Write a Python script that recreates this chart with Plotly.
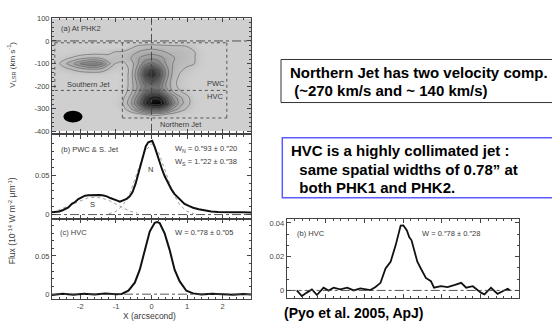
import plotly.graph_objects as go

W, H = 552, 327

# ---------------- data ----------------
# panel (a): position-velocity map (contour level units)
map_x = [-2.8, -2.6, -2.4, -2.2, -2.0, -1.8, -1.6, -1.4, -1.2, -1.0, -0.8, -0.6, -0.4, -0.2,
         0.0, 0.2, 0.4, 0.6, 0.8, 1.0, 1.2, 1.4, 1.6, 1.8, 2.0, 2.2, 2.4, 2.6, 2.8]
map_v = [100, 75, 50, 25, 0, -25, -50, -75, -100, -125, -150, -175, -200, -225, -250,
         -275, -300, -325, -350, -375, -400]
Z0 = [0] * 29
map_level = [
    Z0, Z0, Z0, Z0, Z0,
    [0, 0, 0, 0, 0, 0, 0, 0, 0, 0, 0, 0.6, 1.2, 1.4, 1.5, 1.4, 1.3, 1.2, 1.2, 1.0, 0.6, 0, 0, 0, 0, 0, 0, 0, 0],
    [0, 0, 0.1, 0.2, 0.3, 0.4, 0.5, 0.6, 0.8, 1.1, 1.2, 1.6, 2.0, 2.4, 2.6, 2.4, 2.0, 1.8, 1.6, 1.4, 1.1, 0.3, 0, 0, 0, 0, 0, 0, 0],
    [0, 0.35, 0.75, 1.15, 1.6, 1.9, 2.0, 1.7, 1.3, 1.5, 1.4, 1.9, 2.8, 3.4, 3.7, 3.4, 2.8, 2.1, 1.7, 1.4, 1.1, 0.3, 0, 0, 0, 0, 0, 0, 0],
    [0, 0.9, 1.9, 2.9, 4.0, 4.8, 5.0, 4.3, 2.2, 0.95, 0.8, 1.3, 2.8, 4.5, 5.3, 4.5, 3.0, 2.0, 1.5, 1.25, 1.05, 0.2, 0, 0, 0, 0, 0, 0, 0],
    [0, 0.35, 0.75, 1.15, 1.6, 1.9, 2.0, 1.7, 0.9, 0.4, 0.4, 1.2, 3.4, 6.2, 7.4, 6.2, 3.6, 1.9, 1.2, 0.8, 0.3, 0, 0, 0, 0, 0, 0, 0, 0],
    [0, 0, 0.1, 0.2, 0.2, 0.2, 0.2, 0.2, 0.1, 0, 0.3, 1.3, 3.8, 6.8, 8.0, 6.8, 3.8, 1.7, 0.9, 0.4, 0, 0, 0, 0, 0, 0, 0, 0, 0],
    [0, 0, 0, 0, 0, 0, 0, 0, 0, 0, 0.3, 1.3, 3.4, 5.8, 6.8, 5.8, 3.3, 1.4, 0.7, 0.2, 0, 0, 0, 0, 0, 0, 0, 0, 0],
    [0, 0, 0, 0, 0, 0, 0, 0, 0, 0, 0.3, 1.3, 3.0, 4.8, 5.4, 4.9, 3.0, 1.4, 0.7, 0.2, 0, 0, 0, 0, 0, 0, 0, 0, 0],
    [0, 0, 0, 0, 0, 0, 0, 0, 0, 0, 0.4, 1.5, 3.4, 5.4, 6.3, 6.0, 4.0, 2.0, 1.1, 0.6, 0, 0, 0, 0, 0, 0, 0, 0, 0],
    [0, 0, 0, 0, 0, 0, 0, 0, 0, 0.2, 0.8, 2.2, 4.4, 7.0, 8.6, 8.6, 6.6, 3.8, 2.2, 1.3, 0.3, 0, 0, 0, 0, 0, 0, 0, 0],
    [0, 0, 0, 0, 0, 0, 0, 0, 0, 0.3, 1.05, 2.6, 5.0, 7.8, 9.7, 9.9, 7.8, 4.6, 2.5, 1.4, 0.4, 0, 0, 0, 0, 0, 0, 0, 0],
    [0, 0, 0, 0, 0, 0, 0, 0, 0, 0, 0.6, 1.8, 3.6, 5.6, 6.8, 6.8, 5.2, 3.0, 1.7, 0.9, 0.2, 0, 0, 0, 0, 0, 0, 0, 0],
    [0, 0, 0, 0, 0, 0, 0, 0, 0, 0, 0, 0.3, 0.6, 1.0, 1.2, 1.2, 1.0, 0.6, 0.3, 0.1, 0, 0, 0, 0, 0, 0, 0, 0, 0],
    Z0, Z0, Z0,
]

# panel (b): PWC & S. jet spatial profile
b_x = [-2.8, -2.7, -2.6, -2.5, -2.43, -2.34, -2.24, -2.15, -2.06, -1.96, -1.87, -1.78, -1.68, -1.56,
       -1.45, -1.35, -1.26, -1.16, -1.07, -0.98, -0.89, -0.80, -0.70, -0.62, -0.54, -0.45, -0.37,
       -0.30, -0.23, -0.16, -0.09, -0.03, 0.02, 0.09, 0.16, 0.23, 0.30, 0.37, 0.46, 0.56, 0.65,
       0.75, 0.84, 0.93, 1.05, 1.17, 1.33, 1.49, 1.68, 1.87, 2.1, 2.33, 2.55, 2.8]
b_y = [0.003, 0.0035, 0.004, 0.0055, 0.0074, 0.009, 0.0136, 0.016, 0.0198, 0.022, 0.024, 0.0245,
       0.0248, 0.025, 0.0248, 0.0242, 0.0232, 0.021, 0.019, 0.018, 0.0165, 0.018, 0.0198, 0.023,
       0.028, 0.039, 0.053, 0.066, 0.078, 0.087, 0.092, 0.0935, 0.0938, 0.086, 0.076, 0.065, 0.057,
       0.049, 0.040, 0.032, 0.026, 0.022, 0.018, 0.0136, 0.011, 0.0087, 0.0068, 0.0053, 0.004,
       0.0033, 0.0036, 0.003, 0.0028, 0.0025]
nfit_x = [-1.2, -1.0, -0.8, -0.6, -0.4, -0.2, 0.0, 0.2, 0.4, 0.6, 0.8, 1.0, 1.2]
nfit_y = [0.001, 0.004, 0.012, 0.028, 0.054, 0.079, 0.090, 0.079, 0.054, 0.028, 0.012, 0.004, 0.001]
sfit_x = [-2.8, -2.6, -2.4, -2.2, -2.0, -1.8, -1.6, -1.4, -1.2, -1.0, -0.8, -0.6, -0.4]
sfit_y = [0.003, 0.006, 0.010, 0.014, 0.018, 0.021, 0.022, 0.021, 0.018, 0.013, 0.008, 0.004, 0.002]

# panel (c): HVC spatial profile
c_x = [-2.8, -2.5, -2.2, -1.9, -1.6, -1.3, -1.0, -0.84, -0.65, -0.47, -0.33, -0.19, -0.05,
       0.09, 0.16, 0.23, 0.37, 0.51, 0.65, 0.79, 0.98, 1.17, 1.4, 1.7, 2.0, 2.3, 2.6, 2.8]
c_y = [-0.001, 0.0005, -0.0008, 0.0006, -0.0004, 0.0008, 0.0, 0.0003, 0.0045, 0.015, 0.032,
       0.058, 0.082, 0.0934, 0.0945, 0.093, 0.0796, 0.058, 0.032, 0.017, 0.0045, 0.001,
       -0.0005, 0.0006, 0.0, -0.0008, 0.0003, -0.0006]

# small panel: HVC profile at PHK1
d_x = [-2.74, -2.61, -2.48, -2.35, -2.22, -2.05, -1.92, -1.79, -1.62, -1.44, -1.27, -1.10,
       -0.84, -0.71, -0.58, -0.45, -0.32, -0.19, -0.06, 0.01, 0.10, 0.16, 0.22, 0.29, 0.37,
       0.46, 0.59, 0.72, 0.80, 0.98, 1.15, 1.32, 1.50, 1.63, 1.80, 2.01, 2.10, 2.27, 2.44,
       2.57, 2.70, 2.76]
d_y = [0.0, -0.0033, -0.0013, 0.0006, -0.0027, 0.0016, -0.0001, 0.0016, 0.0006, 0.0016, 0.0,
       0.0012, 0.0002, 0.002, 0.0045, 0.013, 0.017, 0.0267, 0.0384, 0.0385, 0.0355, 0.0316,
       0.0297, 0.023, 0.017, 0.013, 0.0074, 0.0055, 0.0016, 0.0025, 0.002, 0.0031, 0.0045,
       0.0016, 0.0025, -0.0013, -0.0023, 0.0016, -0.002, -0.0005, 0.001, 0.0]

a_yticks = [100, 0, -100, -200, -300, -400]
a_yticktext = ["100", "0", "-100", "-200", "-300", "-400"]
x_ticks = [-2, -1, 0, 1, 2]
x_ticktext = ["-2", "-1", "0", "1", "2"]

# ---------------- helpers ----------------
def fx(px):
    return px / W

def fy(py):
    return 1 - py / H

SCAN = "#3a3a3a"
TICKF = dict(family="Liberation Sans, Arial, sans-serif", size=7.5, color="#444")
BOLD = "Liberation Sans, Arial, sans-serif"

fig = go.Figure()

fig.add_trace(go.Contour(
    x=map_x, y=map_v, z=map_level, xaxis="x", yaxis="y",
    zmin=0, zmax=10, showscale=False, hoverinfo="skip",
    contours=dict(start=1, end=10, size=1, coloring="heatmap", showlines=True),
    line=dict(color="#5a5a5a", width=0.6, smoothing=1),
    colorscale=[[0, "#cfcfcf"], [0.1, "#c2c2c2"], [0.3, "#a4a4a4"], [0.5, "#7a7a7a"],
                [0.7, "#444444"], [0.85, "#1e1e1e"], [1, "#000000"]],
))

line_style = dict(color="#111", width=2)
fig.add_trace(go.Scatter(x=sfit_x, y=sfit_y, xaxis="x2", yaxis="y2", mode="lines",
                         line=dict(color="#888", width=0.8, dash="dot"), hoverinfo="skip"))
fig.add_trace(go.Scatter(x=nfit_x, y=nfit_y, xaxis="x2", yaxis="y2", mode="lines",
                         line=dict(color="#888", width=0.8, dash="dot"), hoverinfo="skip"))
fig.add_trace(go.Scatter(x=b_x, y=b_y, xaxis="x2", yaxis="y2", mode="lines", line=line_style))
fig.add_trace(go.Scatter(x=c_x, y=c_y, xaxis="x3", yaxis="y3", mode="lines", line=line_style))
fig.add_trace(go.Scatter(x=d_x, y=d_y, xaxis="x4", yaxis="y4", mode="lines",
                         line=dict(color="#111", width=1.8)))

frame = dict(showline=True, linecolor="#444", linewidth=1, mirror="allticks", ticks="inside",
             tickcolor="#444", ticklen=4, showgrid=False, zeroline=False, tickfont=TICKF)
xminor = dict(dtick=0.2, ticks="inside", ticklen=2, tickcolor="#444", showgrid=False)

dom_x = [fx(52), fx(251)]
fig.update_layout(
    width=W, height=H, autosize=False, showlegend=False,
    margin=dict(l=0, r=0, t=0, b=0),
    paper_bgcolor="white", plot_bgcolor="white",
    xaxis=dict(domain=dom_x, range=[-2.8, 2.8], anchor="y", showticklabels=False,
               dtick=1, tick0=0, minor=xminor, **frame),
    yaxis=dict(domain=[fy(131.7), fy(14)], range=[-407, 103], anchor="x",
               tickvals=a_yticks, ticktext=a_yticktext,
               minor=dict(dtick=20, ticks="inside", ticklen=2, tickcolor="#444"), **frame),
    xaxis2=dict(domain=dom_x, range=[-2.8, 2.8], anchor="y2", showticklabels=False,
                dtick=1, tick0=0, minor=xminor, **frame),
    yaxis2=dict(domain=[fy(220), fy(134)], range=[-0.006, 0.101], anchor="x2",
                tickvals=[0, 0.05], ticktext=["0", "0.05"],
                minor=dict(dtick=0.01, ticks="inside", ticklen=2, tickcolor="#444"), **frame),
    xaxis3=dict(domain=dom_x, range=[-2.8, 2.8], anchor="y3",
                tickvals=x_ticks, ticktext=x_ticktext,
                minor=xminor, **frame),
    yaxis3=dict(domain=[fy(301.5), fy(220)], range=[-0.0064, 0.098], anchor="x3",
                tickvals=[0, 0.05], ticktext=["0", "0.05"],
                minor=dict(dtick=0.01, ticks="inside", ticklen=2, tickcolor="#444"), **frame),
    xaxis4=dict(domain=[fx(286.7), fx(519.3)], range=[-3, 3], anchor="y4", showticklabels=False,
                dtick=1, tick0=0, minor=xminor, **frame),
    yaxis4=dict(domain=[fy(300.7), fy(219.3)], range=[-0.00464, 0.04255], anchor="x4",
                tickvals=[0, 0.02, 0.04], ticktext=["0", "0.02", "0.04"],
                minor=dict(dtick=0.02 / 3, ticks="inside", ticklen=2, tickcolor="#444"), **frame),
)

shapes = []
dashdot = dict(color="#444", width=0.9, dash="dashdot")
dotted = dict(color="#555", width=1, dash="dot")
# panel (a) reference lines
shapes.append(dict(type="line", xref="x", yref="y", x0=-2.8, x1=2.8, y0=0, y1=0, line=dashdot))
shapes.append(dict(type="line", xref="x", yref="y", x0=0, x1=0, y0=-407, y1=103, line=dashdot))
# extraction regions (dotted)
for (x0, y0, x1, y1) in [(-2.72, -8, 2.12, -8), (-2.72, -219, 2.12, -219), (-2.72, -8, -2.72, -219),
                         (-0.82, -8, -0.82, -341), (2.12, -8, 2.12, -341), (-0.82, -341, 2.12, -341)]:
    shapes.append(dict(type="line", xref="x", yref="y", x0=x0, y0=y0, x1=x1, y1=y1, line=dotted))
# beam
shapes.append(dict(type="circle", xref="x", yref="y", x0=-2.48, x1=-1.94, y0=-361, y1=-309,
                   fillcolor="black", line=dict(color="black", width=0)))
# zero baselines
for xa, ya, xr in [("x2", "y2", 2.8), ("x3", "y3", 2.8), ("x4", "y4", 3)]:
    shapes.append(dict(type="line", xref=xa, yref=ya, x0=-xr, x1=xr, y0=0, y1=0, line=dashdot))
# text boxes
shapes.append(dict(type="rect", xref="paper", yref="paper", x0=fx(281), x1=fx(560),
                   y0=fy(100.7), y1=fy(56.7), line=dict(color="#333", width=1)))
shapes.append(dict(type="rect", xref="paper", yref="paper", x0=fx(282.3), x1=fx(560),
                   y0=fy(198), y1=fy(136.7), line=dict(color="#5a5aff", width=1.5)))
fig.update_layout(shapes=shapes)

ann = []
def txt(s, px, py, size=7.5, xanchor="left", color=SCAN, family=TICKF["family"], angle=0):
    ann.append(dict(text=s, x=fx(px), y=fy(py), xref="paper", yref="paper", showarrow=False,
                    xanchor=xanchor, yanchor="middle", textangle=angle,
                    font=dict(size=size, color=color, family=family)))

# scanned-figure labels
txt("(a) At PHK2", 59, 25)
txt("Southern Jet", 65, 82)
txt("PWC", 205, 81)
txt("HVC", 205, 95)
txt("Northern Jet", 158, 122.7)
txt("(b) PWC &amp; S. Jet", 59, 148.5)
txt("W<sub>N</sub> = 0.″93 ± 0.″20", 173, 148.5)
txt("W<sub>S</sub> = 1.″22 ± 0.″38", 173, 161.7)
txt("N", 150, 169.3, xanchor="center")
txt("S", 92.7, 205, xanchor="center")
txt("(c) HVC", 58, 233)
txt("W = 0.″78 ± 0.″05", 173, 233)
txt("(b) HVC", 295, 234.5)
txt("W = 0.″78 ± 0.″28", 420, 234.5)
txt("V<sub>LSR</sub> (km s<sup>-1</sup>)", 12, 62, size=8, xanchor="center", angle=-90)
txt("Flux (10<sup>-14</sup> W m<sup>-2</sup> μm<sup>-1</sup>)", 12, 222, size=8.5,
    xanchor="center", angle=-90)
txt("X (arcsecond)", 149, 318.5, size=8.5, xanchor="center")

# slide text
txt("<b>Northern Jet has two velocity comp.</b>", 287.5, 70.5, size=15, color="black", family=BOLD)
txt("<b> (~270 km/s and ~ 140 km/s)</b>", 287.5, 88, size=15, color="black", family=BOLD)
txt("<b>HVC is a highly collimated jet :</b>", 288.5, 149.3, size=15, color="black", family=BOLD)
txt("<b>  same spatial widths of 0.78” at</b>", 288.5, 169.3, size=15, color="black", family=BOLD)
txt("<b>  both PHK1 and PHK2.</b>", 288.5, 187.7, size=15, color="black", family=BOLD)
txt("<b>(Pyo et al. 2005, ApJ)</b>", 282, 316, size=14, color="black", family=BOLD)

fig.update_layout(annotations=ann)
fig.write_html("out.html")
